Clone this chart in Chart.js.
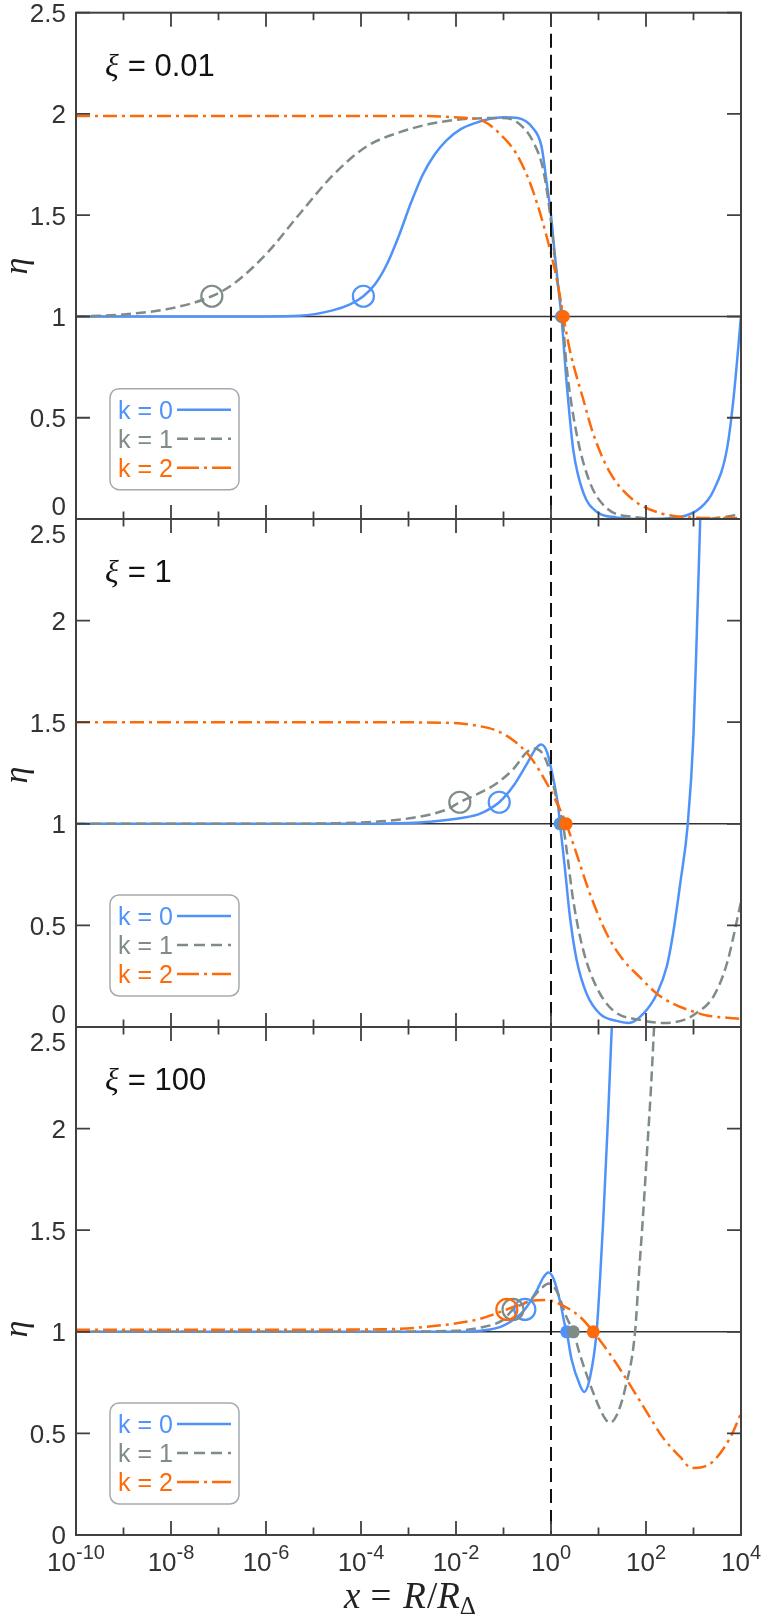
<!DOCTYPE html>
<html>
<head>
<meta charset="utf-8">
<title>eta vs R/R_Delta</title>
<script src="https://cdn.jsdelivr.net/npm/chart.js@4.4.1/dist/chart.umd.min.js"></script>
<style>
  html, body { margin: 0; padding: 0; background: #ffffff; }
  #wrap { position: relative; width: 764px; height: 1623px; overflow: hidden; }
  #wrap canvas { position: absolute; left: 0; top: 0; }
</style>
</head>
<body>
<div id="wrap">
  <canvas id="c1" width="764" height="1623"></canvas>
  <canvas id="c2" width="764" height="1623"></canvas>
  <canvas id="c3" width="764" height="1623"></canvas>
</div>
<script>
// =========================
// data (x given as log10 of R/R_Delta)
// =========================

// xi = 0.01
const p1k0LogX = [-10, -8, -6, -5.3, -4.6, -4.23, -3.95, -3.7, -3.45, -3.2, -2.95, -2.7, -2.45, -2.2, -1.9, -1.6, -1.3, -1.0, -0.7, -0.4, -0.2, -0.09, 0, 0.07, 0.15, 0.22, 0.33, 0.47, 0.68, 0.96, 1.38, 2.0, 2.72, 3.14, 3.42, 3.7, 3.84, 4.0];
const p1k0Eta  = [1, 1, 1, 1.003, 1.03, 1.06, 1.1, 1.16, 1.26, 1.4, 1.56, 1.7, 1.8, 1.87, 1.925, 1.955, 1.975, 1.984, 1.98, 1.935, 1.84, 1.66, 1.5, 1.33, 1.15, 1.0, 0.67, 0.34, 0.13, 0.036, 0.008, 0.0, 0.01, 0.054, 0.14, 0.34, 0.59, 1.0];
const p1k1LogX = [-10, -9, -8, -7.14, -6.69, -5.99, -5.28, -4.58, -3.88, -3.18, -2.48, -1.77, -1.07, -0.72, -0.37, -0.16, 0, 0.12, 0.24, 0.33, 0.54, 0.82, 1.17, 1.73, 2.5, 3.2, 3.6, 4.0];
const p1k1Eta  = [1.0, 1.01, 1.04, 1.1, 1.16, 1.31, 1.51, 1.7, 1.84, 1.91, 1.954, 1.976, 1.98, 1.96, 1.86, 1.72, 1.47, 1.2, 1.0, 0.75, 0.42, 0.18, 0.054, 0.01, 0.0, 0.0, 0.008, 0.025];
const p1k2LogX = [-10, -4, -2.6, -2.13, -1.77, -1.42, -1.07, -0.72, -0.38, -0.02, 0.15, 0.26, 0.4, 0.68, 0.89, 1.24, 1.73, 2.29, 2.93, 3.5, 4.0];
const p1k2Eta  = [1.99, 1.99, 1.99, 1.985, 1.98, 1.965, 1.9, 1.8, 1.62, 1.33, 1.15, 1.0, 0.83, 0.59, 0.42, 0.23, 0.094, 0.03, 0.008, 0.005, 0.005];
const p1CircLogX = [-3.95, -7.14, null];
const p1CircEta  = [1.1, 1.1, null];
const p1DotLogX  = [0.22, 0.24, 0.26];
const p1DotEta   = [1, 1, 1];

// xi = 1
const p2k0LogX = [-10, -6, -4, -3, -2.55, -1.85, -1.49, -1.09, -0.79, -0.52, -0.31, -0.21, -0.09, 0.05, 0.15, 0.19, 0.29, 0.4, 0.54, 0.75, 1.03, 1.38, 1.63, 1.94, 2.23, 2.44, 2.57, 2.72, 2.88, 3.0, 3.07, 3.14, 3.18];
const p2k0Eta  = [1, 1, 1.0, 1.004, 1.01, 1.03, 1.05, 1.106, 1.187, 1.29, 1.373, 1.39, 1.357, 1.22, 1.086, 1.0, 0.787, 0.54, 0.33, 0.164, 0.065, 0.03, 0.02, 0.065, 0.164, 0.3, 0.46, 0.705, 1.0, 1.44, 1.94, 2.49, 2.8];
const p2k1LogX = [-10, -6, -4.5, -3.6, -2.9, -2.2, -1.92, -1.49, -1.14, -0.79, -0.52, -0.37, -0.16, -0.02, 0.12, 0.25, 0.33, 0.47, 0.68, 0.96, 1.31, 1.87, 2.36, 2.8, 3.07, 3.42, 3.7, 4.0];
const p2k1Eta  = [1, 1, 1.003, 1.012, 1.03, 1.07, 1.106, 1.153, 1.2, 1.27, 1.35, 1.37, 1.34, 1.255, 1.12, 1.0, 0.87, 0.62, 0.377, 0.196, 0.081, 0.035, 0.02, 0.035, 0.07, 0.15, 0.31, 0.615];
const p2k2LogX = [-10, -4, -2.2, -1.85, -1.49, -1.14, -0.79, -0.44, -0.09, 0.19, 0.32, 0.47, 0.82, 1.17, 1.52, 1.87, 2.23, 2.57, 2.93, 3.28, 3.91, 4.0];
const p2k2Eta  = [1.5, 1.5, 1.497, 1.492, 1.48, 1.458, 1.41, 1.33, 1.2, 1.07, 1.0, 0.9, 0.656, 0.46, 0.33, 0.245, 0.164, 0.114, 0.081, 0.057, 0.042, 0.04];
const p2CircLogX = [-1.09, -1.92, null];
const p2CircEta  = [1.106, 1.106, null];
const p2DotLogX  = [0.19, 0.25, 0.32];
const p2DotEta   = [1, 1, 1];

// xi = 100
const p3k0LogX = [-10, -4, -2, -1.49, -1.0, -0.55, -0.3, -0.16, -0.05, 0.05, 0.19, 0.29, 0.33, 0.43, 0.61, 0.7, 0.82, 0.96, 1.03, 1.1, 1.2, 1.28, 1.32];
const p3k0Eta  = [1, 1, 1.0, 1.005, 1.03, 1.11, 1.203, 1.268, 1.292, 1.263, 1.15, 1.035, 1.0, 0.867, 0.737, 0.704, 0.774, 1.0, 1.25, 1.55, 2.05, 2.5, 2.7];
const p3k1LogX = [-10, -4, -2, -1.5, -1.0, -0.8, -0.44, -0.2, -0.05, 0.12, 0.33, 0.47, 0.61, 0.89, 1.1, 1.24, 1.38, 1.56, 1.77, 1.85, 1.94, 2.02, 2.1, 2.17, 2.2];
const p3k1Eta  = [1, 1, 1.005, 1.02, 1.06, 1.11, 1.157, 1.215, 1.238, 1.2, 1.07, 1.0, 0.887, 0.7, 0.588, 0.552, 0.588, 0.72, 1.0, 1.28, 1.58, 1.88, 2.18, 2.5, 2.65];
const p3k2LogX = [-10, -6, -3.6, -2.2, -1.49, -0.93, -0.44, -0.09, 0.26, 0.61, 0.89, 1.31, 1.66, 2.01, 2.36, 2.72, 2.96, 3.2, 3.42, 3.77, 4.0];
const p3k2Eta  = [1.01, 1.01, 1.012, 1.035, 1.064, 1.11, 1.15, 1.156, 1.128, 1.074, 1.0, 0.867, 0.74, 0.607, 0.478, 0.384, 0.33, 0.335, 0.364, 0.478, 0.598];
const p3CircLogX = [-0.55, -0.8, -0.93];
const p3CircEta  = [1.11, 1.11, 1.11];
const p3DotLogX  = [0.33, 0.47, 0.89];
const p3DotEta   = [1, 1, 1];

// axes / labels
const kLabels = ['k = 0', 'k = 1', 'k = 2'];
const xiLabels = ['0.01', '1', '100'];
const yTickVals = [0, 0.5, 1, 1.5, 2, 2.5];
const yTickText = ['0', '0.5', '1', '1.5', '2', '2.5'];
const xTickExp = [-10, -8, -6, -4, -2, 0, 2, 4];

// =========================
// style
// =========================
const kColors = ['#4f93fa', '#7e8b89', '#fd6a0a'];
const kDash = [[], [10, 5], [14, 5, 3, 5]];
const kLegendDash = [[], [11, 6], [22, 5, 3, 5]];
const axisColor = '#404040';
const tickFont = '26px "Liberation Sans", Arial, sans-serif';

const panelTop = [12, 519, 1027];
const panelBottom = [519, 1027, 1535];
const etaLabelY = [266, 775, 1329];

function pts(logx, eta) {
  return logx.map((e, i) => ({ x: Math.pow(10, e), y: eta[i] }));
}

// text made of several runs (font changes, sub/superscripts)
function drawRuns(ctx, runs, x, baseY, centered) {
  let total = 0;
  runs.forEach(r => {
    ctx.font = r.font;
    r.w = ctx.measureText(r.text).width;
    total += r.w + (r.gap || 0);
  });
  let cx = centered ? x - total / 2 : x;
  ctx.textAlign = 'left';
  ctx.textBaseline = 'alphabetic';
  runs.forEach(r => {
    ctx.font = r.font;
    ctx.fillStyle = r.color;
    ctx.fillText(r.text, cx, baseY + (r.dy || 0));
    cx += r.w + (r.gap || 0);
  });
}

function roundRect(ctx, x, y, w, h, r) {
  ctx.beginPath();
  ctx.moveTo(x + r, y);
  ctx.lineTo(x + w - r, y);
  ctx.arcTo(x + w, y, x + w, y + r, r);
  ctx.lineTo(x + w, y + h - r);
  ctx.arcTo(x + w, y + h, x + w - r, y + h, r);
  ctx.lineTo(x + r, y + h);
  ctx.arcTo(x, y + h, x, y + h - r, r);
  ctx.lineTo(x, y + r);
  ctx.arcTo(x, y, x + r, y, r);
  ctx.closePath();
}

// =========================
// frame, ticks, labels, legend
// =========================
function framePlugin(idx) {
  return {
    id: 'frame' + idx,
    beforeDatasetsDraw(chart) {
      const { ctx, chartArea: a } = chart;
      const y1 = chart.scales.y.getPixelForValue(1);
      ctx.save();
      ctx.strokeStyle = '#333333';
      ctx.lineWidth = 1.4;
      ctx.beginPath();
      ctx.moveTo(a.left, y1);
      ctx.lineTo(a.right, y1);
      ctx.stroke();
      ctx.restore();
    },
    afterDatasetsDraw(chart) {
      const { ctx, chartArea: a } = chart;
      const xs = chart.scales.x;
      const ys = chart.scales.y;
      ctx.save();

      // x = 1 dashed line
      const x0 = xs.getPixelForValue(1);
      ctx.setLineDash([14, 7]);
      ctx.strokeStyle = '#111111';
      ctx.lineWidth = 2;
      ctx.beginPath();
      ctx.moveTo(x0, a.top);
      ctx.lineTo(x0, a.bottom);
      ctx.stroke();
      ctx.setLineDash([]);

      // box
      ctx.strokeStyle = axisColor;
      ctx.lineWidth = 2;
      ctx.strokeRect(a.left, a.top, a.right - a.left, a.bottom - a.top);

      // ticks (inside, every decade; even decades longer)
      ctx.lineWidth = 1.8;
      ctx.beginPath();
      for (let e = -10; e <= 4; e++) {
        const px = xs.getPixelForValue(Math.pow(10, e));
        const len = e % 2 === 0 ? 14 : 7.5;
        ctx.moveTo(px, a.bottom);
        ctx.lineTo(px, a.bottom - len);
        ctx.moveTo(px, a.top);
        ctx.lineTo(px, a.top + len);
      }
      yTickVals.forEach(v => {
        const py = ys.getPixelForValue(v);
        ctx.moveTo(a.left, py);
        ctx.lineTo(a.left + 14, py);
        ctx.moveTo(a.right, py);
        ctx.lineTo(a.right - 14, py);
      });
      ctx.stroke();

      // y tick labels
      ctx.font = tickFont;
      ctx.fillStyle = '#333333';
      ctx.textAlign = 'right';
      ctx.textBaseline = 'alphabetic';
      yTickVals.forEach((v, i) => {
        let py = ys.getPixelForValue(v);
        if (v === 0 && idx < 2) py -= 13;
        if (v === 2.5 && idx > 0) py += 15;
        ctx.fillText(yTickText[i], a.left - 10, py + 9.3);
      });

      // eta label
      ctx.save();
      ctx.translate(18, etaLabelY[idx]);
      ctx.rotate(-Math.PI / 2);
      ctx.font = 'italic 34px "Liberation Serif", serif';
      ctx.fillStyle = '#222222';
      ctx.textAlign = 'center';
      ctx.textBaseline = 'middle';
      ctx.fillText('η', 0, 0);
      ctx.restore();

      // xi annotation
      drawRuns(ctx, [
        { text: 'ξ', font: 'italic 32px "Liberation Serif", serif', color: '#111111', gap: 9 },
        { text: '= ' + xiLabels[idx], font: '31px "Liberation Sans", Arial, sans-serif', color: '#111111' }
      ], 105, a.top + 63, false);

      // legend
      const bx = 110, by = a.top + 376, bw = 129, bh = 101;
      roundRect(ctx, bx, by, bw, bh, 9);
      ctx.fillStyle = '#ffffff';
      ctx.fill();
      ctx.strokeStyle = '#a2aab0';
      ctx.lineWidth = 1.5;
      ctx.stroke();
      const rowY = [21, 50, 79];
      kLabels.forEach((lab, k) => {
        const cy = by + rowY[k];
        ctx.font = '25px "Liberation Sans", Arial, sans-serif';
        ctx.fillStyle = kColors[k];
        ctx.textAlign = 'left';
        ctx.textBaseline = 'alphabetic';
        ctx.fillText(lab, 118, cy + 9);
        ctx.strokeStyle = kColors[k];
        ctx.lineWidth = 2.5;
        ctx.setLineDash(kLegendDash[k]);
        ctx.beginPath();
        ctx.moveTo(177, cy);
        ctx.lineTo(231, cy);
        ctx.stroke();
        ctx.setLineDash([]);
      });

      // x tick labels and axis title on the bottom panel
      if (idx === 2) {
        xTickExp.forEach(e => {
          const px = xs.getPixelForValue(Math.pow(10, e));
          drawRuns(ctx, [
            { text: '10', font: tickFont, color: '#333333' },
            { text: String(e), font: '20px "Liberation Sans", Arial, sans-serif', color: '#333333', dy: -12 }
          ], px, a.bottom + 36, true);
        });
        const serif = '"Liberation Serif", serif';
        drawRuns(ctx, [
          { text: 'x', font: 'italic 37px ' + serif, color: '#222222', gap: 10 },
          { text: '=', font: '37px ' + serif, color: '#222222', gap: 12 },
          { text: 'R', font: 'italic 37px ' + serif, color: '#222222', gap: 1 },
          { text: '/', font: '37px ' + serif, color: '#222222', gap: 0 },
          { text: 'R', font: 'italic 37px ' + serif, color: '#222222', gap: 0 },
          { text: 'Δ', font: '25px ' + serif, color: '#222222', dy: 6 }
        ], 410, 1608, true);
      }
      ctx.restore();
    }
  };
}

// =========================
// build the three panels
// =========================
const panels = [
  { id: 'c1', lines: [[p1k0LogX, p1k0Eta], [p1k1LogX, p1k1Eta], [p1k2LogX, p1k2Eta]],
    circX: p1CircLogX, circY: p1CircEta, dotX: p1DotLogX, dotY: p1DotEta },
  { id: 'c2', lines: [[p2k0LogX, p2k0Eta], [p2k1LogX, p2k1Eta], [p2k2LogX, p2k2Eta]],
    circX: p2CircLogX, circY: p2CircEta, dotX: p2DotLogX, dotY: p2DotEta },
  { id: 'c3', lines: [[p3k0LogX, p3k0Eta], [p3k1LogX, p3k1Eta], [p3k2LogX, p3k2Eta]],
    circX: p3CircLogX, circY: p3CircEta, dotX: p3DotLogX, dotY: p3DotEta }
];

panels.forEach((p, idx) => {
  const datasets = [];
  // first in list = drawn last (on top)
  for (let k = 2; k >= 0; k--) {
    datasets.push({
      data: pts([p.dotX[k]], [p.dotY[k]]),
      showLine: false,
      pointRadius: 6.5,
      pointBorderWidth: 0,
      pointBackgroundColor: kColors[k],
      pointBorderColor: kColors[k]
    });
  }
  for (let k = 2; k >= 0; k--) {
    if (p.circX[k] === null) continue;
    datasets.push({
      data: pts([p.circX[k]], [p.circY[k]]),
      showLine: false,
      pointRadius: 10.5,
      pointBorderWidth: 2.2,
      pointBackgroundColor: 'rgba(0,0,0,0)',
      pointBorderColor: kColors[k]
    });
  }
  for (let k = 2; k >= 0; k--) {
    datasets.push({
      data: pts(p.lines[k][0], p.lines[k][1]),
      borderColor: kColors[k],
      borderWidth: 2.5,
      borderDash: kDash[k],
      pointRadius: 0,
      fill: false,
      cubicInterpolationMode: 'monotone'
    });
  }

  new Chart(document.getElementById(p.id), {
    type: 'line',
    data: { datasets: datasets },
    options: {
      responsive: false,
      animation: false,
      devicePixelRatio: 1,
      events: [],
      layout: { padding: { left: 76, right: 23, top: panelTop[idx], bottom: 1623 - panelBottom[idx] } },
      scales: {
        x: { type: 'logarithmic', min: 1e-10, max: 1e4, display: false },
        y: { type: 'linear', min: 0, max: 2.5, display: false }
      },
      elements: { line: { capBezierPoints: false } },
      plugins: { legend: { display: false }, tooltip: { enabled: false } }
    },
    plugins: [framePlugin(idx)]
  });
});
</script>
</body>
</html>
